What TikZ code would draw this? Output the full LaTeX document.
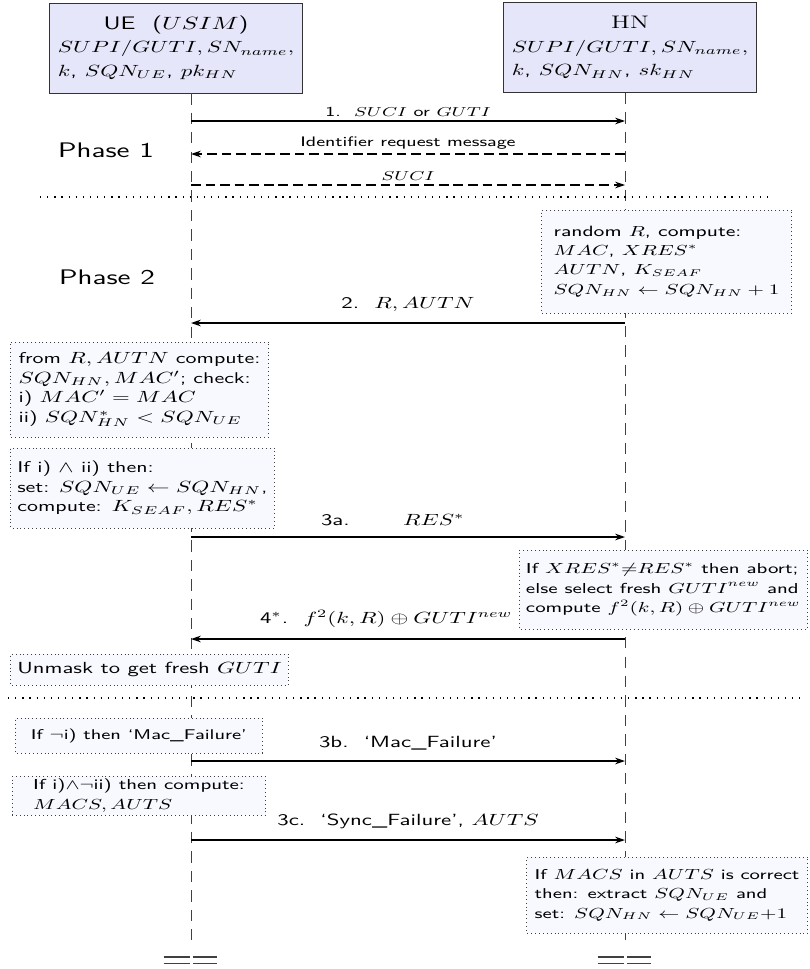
\documentclass[tikz,border=0pt]{standalone}
\usepackage{amsmath,amssymb}
\usetikzlibrary{arrows.meta}
\renewcommand{\familydefault}{\sfdefault}
\definecolor{hdrfill}{RGB}{230,230,250}
\definecolor{notefill}{RGB}{248,248,255}
\newcommand{\fs}[1]{\fontsize{#1}{12}\selectfont}

\begin{document}
\begin{tikzpicture}[x=0.21696cm,y=-0.21696cm,
    every node/.append style={xscale=1.41},
    hdr/.style={draw=black!80,fill=hdrfill,font=\fontsize{10.4}{14.5}\selectfont,
        inner sep=2pt,minimum width=111pt,minimum height=55.5pt},
    title/.style={font=\fontsize{11.2}{14.5}\selectfont},
    note/.style={draw=black!75,dotted,fill=notefill,align=left,inner xsep=3pt,inner ysep=1pt},
    life/.style={black!75,dash pattern=on 7pt off 5pt},
    msg/.style={thick,-{Stealth[length=6pt,width=4pt]}},
    dmsg/.style={msg,dash pattern=on 6pt off 3pt},
    sep/.style={thick,dash pattern=on 0.8pt off 3.6pt},
    lbl/.style={above,inner sep=6.5pt},
    smalllbl/.style={above,inner sep=2.5pt,font=\fontsize{8.5}{10}\selectfont},
    phase/.style={font=\fontsize{13}{15}\selectfont}]
    \useasboundingbox (0,0) rectangle (81,96.9);

    % Headers
    \node[hdr] (ue) at (17.6,4.8) {\begin{tabular}{@{}l@{}}
        \multicolumn{1}{@{}c@{}}{\fontsize{11.2}{14.5}\selectfont UE\ \ ($USIM$)}\\
        $SUPI/GUTI, SN_{name},$\\
        $k$, $SQN_{UE}$, $pk_{HN}$
    \end{tabular}};
    \node[hdr] (hn) at (63.0,4.75) {\begin{tabular}{@{}l@{}}
        \multicolumn{1}{@{}c@{}}{\fontsize{11.2}{14.5}\selectfont\rmfamily HN}\\
        $SUPI/GUTI, SN_{name},$\\
        $k$, $SQN_{HN}$, $sk_{HN}$
    \end{tabular}};

    % Lifelines
    \coordinate (uend) at (19.1,94.8);
    \coordinate (hend) at (62.5,94.8);
    \draw[life] (ue.south -| uend) -- (uend);
    \draw[life] (hn.south -| hend) -- (hend);
    \foreach \x in {19.1,62.5} {
        \foreach \y in {95.7,96.35} {
            \draw[thick,black!75] (\x-2.75,\y) -- (\x-0.15,\y);
            \draw[thick,black!75] (\x+0.2,\y) -- (\x+2.6,\y);
        }
    }
    \foreach \n/\y in {1/12.1,2/15.4,3/18.5,4/32.3,5/53.7,6/63.9,7/76.1,8/84.0} {
        \coordinate (u\n) at (19.1,\y);
        \coordinate (h\n) at (62.5,\y);
    }

    % Phase 1
    \node[phase] (ph1) at (10.6,15.0) {Phase 1};
    \draw[msg] (u1) -- node[smalllbl] (l1) {1.\ \ $SUCI$ or $GUTI$} (h1);
    \draw[dmsg] (h2) -- node[smalllbl] (l2) {Identifier request message} (u2);
    \draw[dmsg] (u3) -- node[smalllbl] (l3) {$SUCI$} (h3);
    \draw[sep] (4,19.7) -- (76.8,19.7);

    % Phase 2
    \node[phase] (ph2) at (10.7,27.7) {Phase 2};
    \node[note,anchor=east,font=\fs{9.2},minimum width=109.5pt,minimum height=63.6pt]
        (n1) at (79.2,26.15) {random $R$, compute:\\
        $MAC$, $XRES^*$\\ $AUTN$, $K_{SEAF}$\\ $SQN_{HN} \leftarrow SQN_{HN} + 1$};
    \draw[msg] (h4) -- node[lbl] (l4) {2.\ \ $R, AUTN$} (u4);
    \node[note,anchor=west,font=\fs{9.6},minimum width=113pt,minimum height=58.6pt]
        (n2) at (1.0,38.95) {from $R, AUTN$ compute:\\
        $SQN_{HN}, MAC'$; check:\\ i) $MAC' = MAC$\\ ii) $SQN^*_{HN} < SQN_{UE}$};
    \node[note,anchor=west,font=\fs{9.6},minimum width=113pt,minimum height=49.4pt]
        (n3) at (1.0,48.8) {If i) $\wedge$ ii) then:\\
        set: $SQN_{UE} \leftarrow SQN_{HN}$,\\ compute: $K_{SEAF}, RES^*$};
    \draw[msg] (u5) -- node[lbl,pos=0.465] (l5) {3a.\qquad\ $RES^*$} (h5);
    \node[note,anchor=east,font=\fs{8.9},minimum width=124.3pt,minimum height=48.8pt]
        (n4) at (80.8,58.95) {If $XRES^*{\neq}RES^*$ then abort;\\
        else select fresh $GUTI^{new}$ and\\ compute $f^2(k,R) \oplus GUTI^{new}$};
    \draw[msg] (h6) -- node[lbl,pos=0.55] (l6) {4$^*$.\ \ $f^2(k,R) \oplus GUTI^{new}$} (u6);
    \node[note,anchor=west,font=\fs{9.9},minimum width=113pt,minimum height=19.1pt]
        (n5) at (1.0,66.95) {Unmask to get fresh $GUTI$};
    \draw[sep] (0.8,69.8) -- (80,69.8);

    % Failures
    \node[note,anchor=west,font=\fs{8.7},minimum width=108.1pt,minimum height=21.6pt]
        (n6) at (1.5,73.55) {If $\neg$i) then `Mac\_Failure'};
    \draw[msg] (u7) -- node[lbl] (l7) {3b.\ \ `Mac\_Failure'} (h7);
    \node[note,anchor=west,font=\fs{8.9},minimum width=110.8pt,minimum height=24.1pt]
        (n7) at (1.2,79.55) {If i)$\wedge\neg$ii) then compute:\\
        $MACS, AUTS$};
    \draw[msg] (u8) -- node[lbl] (l8) {3c.\ \ `Sync\_Failure', $AUTS$} (h8);
    \node[note,anchor=east,font=\fs{8.8},minimum width=123pt,minimum height=46.9pt]
        (n8) at (80.8,89.5) {If $MACS$ in $AUTS$ is correct\\
        then: extract $SQN_{UE}$ and\\ set: $SQN_{HN} \leftarrow SQN_{UE}{+}1$};
\end{tikzpicture}
\end{document}
